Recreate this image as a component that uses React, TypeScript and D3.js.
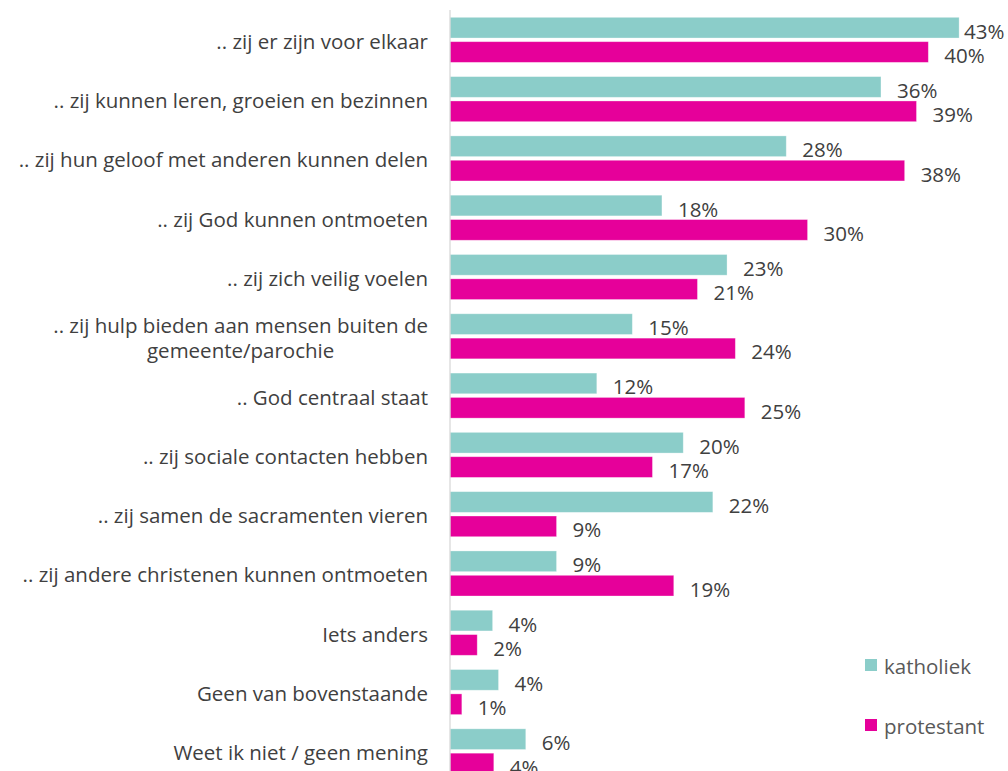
import React from "react";
import * as d3 from "d3";

const categories: string[][] = [
  [".. zij er zijn voor elkaar"],
  [".. zij kunnen leren, groeien en bezinnen"],
  [".. zij hun geloof met anderen kunnen delen"],
  [".. zij God kunnen ontmoeten"],
  [".. zij zich veilig voelen"],
  [".. zij hulp bieden aan mensen buiten de", "gemeente/parochie"],
  [".. God centraal staat"],
  [".. zij sociale contacten hebben"],
  [".. zij samen de sacramenten vieren"],
  [".. zij andere christenen kunnen ontmoeten"],
  ["Iets anders"],
  ["Geen van bovenstaande"],
  ["Weet ik niet / geen mening"],
];

const katholiek = [43.0, 36.4, 28.4, 17.9, 23.4, 15.4, 12.4, 19.7, 22.2, 9.0, 3.6, 4.1, 6.4];
const protestant = [40.4, 39.4, 38.4, 30.2, 20.9, 24.1, 24.9, 17.1, 9.0, 18.9, 2.3, 1.0, 3.7];

const seriesNames = ["katholiek", "protestant"];
const seriesColors = ["#8BCDC9", "#E6009A"];

const W = 1008;
const H = 771;
const FONT = "'Open Sans', 'Noto Sans', sans-serif";
const TEXT = "#404040";
const FS = 20.5;

function measure(t: string): number {
  if (typeof document === "undefined") return t.length * 10;
  const c = document.createElement("canvas").getContext("2d");
  if (!c) return t.length * 10;
  c.font = `${FS}px 'Open Sans', 'Noto Sans', sans-serif`;
  return c.measureText(t).width;
}

export default function App() {
  const keys = categories.map((c, i) => String(i));
  const y = d3.scaleBand<string>().domain(keys).range([10.2, 781]).paddingInner(0.24).paddingOuter(0.12);
  const ySub = d3.scaleBand<string>().domain(seriesNames).range([0, y.bandwidth()]).paddingInner(0.15);
  const x = d3.scaleLinear().domain([0, 50]).range([450, 450 + 50 * 11.84]);
  const series = [katholiek, protestant];
  const labelRight = 428;

  return (
    <svg width={W} height={H} style={{ position: "absolute", left: 0, top: 0, background: "#fff" }} fontFamily={FONT}>
      {keys.map((k, i) => {
        const y0 = y(k)!;
        const cy = y0 + y.bandwidth() / 2;
        const lines = categories[i];
        const lh = 25;
        const maxW = Math.max(...lines.map(measure));
        const centerX = labelRight - maxW / 2;
        return (
          <g key={k}>
            {lines.map((ln, j) => (
              <text
                key={j}
                x={lines.length > 1 ? centerX : labelRight}
                y={cy + (j - (lines.length - 1) / 2) * lh + 1}
                textAnchor={lines.length > 1 ? "middle" : "end"}
                dominantBaseline="central"
                fontSize={FS}
                fill={TEXT}
              >
                {ln}
              </text>
            ))}
            {series.map((vals, s) => {
              const by = y0 + ySub(seriesNames[s])!;
              const bh = ySub.bandwidth();
              const xe = x(vals[i]);
              const lbl = `${Math.round(vals[i])}%`;
              const lx = Math.min(xe + 16, 1006 - 42);
              return (
                <g key={s}>
                  <rect x={x(0)} y={by} width={xe - x(0)} height={bh} fill={seriesColors[s]} stroke="#ffffff" strokeOpacity={0.4} strokeWidth={0.8} />
                  <text x={Math.max(lx, xe + 3)} y={by + bh / 2 + 3} dominantBaseline="central" fontSize={FS} fill={TEXT}>
                    {lbl}
                  </text>
                </g>
              );
            })}
          </g>
        );
      })}
      <line x1={x(0)} x2={x(0)} y1={10} y2={H} stroke="#d9d9d9" strokeWidth={1.3} />
      {seriesNames.map((n, s) => (
        <g key={n} transform={`translate(865, ${659 + s * 60})`}>
          <rect x={0} y={0} width={12} height={12} fill={seriesColors[s]} />
          <text x={19} y={7} dominantBaseline="central" fontSize={FS} fill="#595959">
            {n}
          </text>
        </g>
      ))}
    </svg>
  );
}
